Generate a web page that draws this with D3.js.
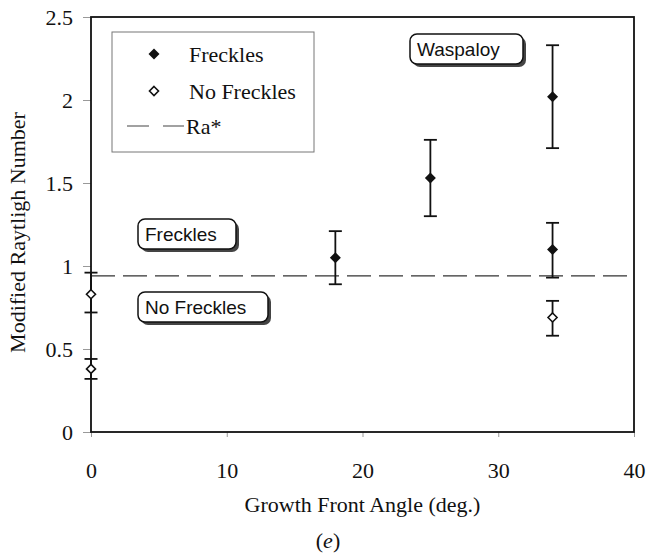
<!DOCTYPE html>
<html>
<head>
<meta charset="utf-8">
<script src="https://cdn.jsdelivr.net/npm/d3@7"></script>
<style>
  html, body { margin: 0; padding: 0; background: #fff; }
  svg { display: block; }
</style>
</head>
<body>
<svg id="chart" width="650" height="558"></svg>
<script>
// Growth front angle vs. modified Rayleigh number (Waspaloy)
const xTicks = [0, 10, 20, 30, 40];
const yTicks = [0, 0.5, 1, 1.5, 2, 2.5];
const yTickLabels = ["0", "0.5", "1", "1.5", "2", "2.5"];

// Freckled castings: value with lower / upper error limits
const freckAngle = [18, 25, 34, 34];
const freckRa    = [1.05, 1.53, 2.02, 1.10];
const freckLo    = [0.89, 1.30, 1.71, 0.93];
const freckHi    = [1.21, 1.76, 2.33, 1.26];

// Freckle-free castings
const noFreckAngle = [0, 0, 34];
const noFreckRa    = [0.83, 0.38, 0.69];
const noFreckLo    = [0.72, 0.32, 0.58];
const noFreckHi    = [0.96, 0.44, 0.79];

// Critical Rayleigh number
const raStar = 0.94;

const legendLabels = ["Freckles", "No Freckles", "Ra*"];

const svg = d3.select("#chart");
const serif = "'Liberation Serif', 'Times New Roman', serif";
const sans = "'Liberation Sans', Arial, sans-serif";

const plotL = 91, plotR = 634, plotT = 17, plotB = 432;
const x = d3.scaleLinear().domain([0, 40]).range([plotL, plotR]);
const y = d3.scaleLinear().domain([0, 2.5]).range([plotB, plotT]);

// Axes with outward gray ticks
const xAxis = svg.append("g").attr("transform", `translate(0,${plotB})`)
  .call(d3.axisBottom(x).tickValues(xTicks).tickSize(5).tickPadding(25).tickFormat(d3.format("d")));
const yAxis = svg.append("g").attr("transform", `translate(${plotL},0)`)
  .call(d3.axisLeft(y).tickValues(yTicks).tickSize(8).tickPadding(10)
    .tickFormat((d, i) => yTickLabels[i]));
[xAxis, yAxis].forEach(g => {
  g.select(".domain").remove();
  g.selectAll(".tick line").attr("stroke", "#999").attr("stroke-width", 1);
  g.selectAll(".tick text").attr("font-family", serif).attr("font-size", 22).attr("fill", "#111");
});

// Plot frame
svg.append("rect")
  .attr("x", plotL).attr("y", plotT)
  .attr("width", plotR - plotL).attr("height", plotB - plotT)
  .attr("fill", "none").attr("stroke", "#111").attr("stroke-width", 1.8);

// Ra* threshold line
svg.append("line")
  .attr("x1", x(0)).attr("x2", x(40))
  .attr("y1", y(raStar)).attr("y2", y(raStar))
  .attr("stroke", "#333").attr("stroke-width", 1.3)
  .attr("stroke-dasharray", "24,8");

// Annotation boxes with drop shadow
function note(bx, by, w, h, label) {
  const g = svg.append("g");
  g.append("rect").attr("x", bx + 3).attr("y", by + 3).attr("width", w).attr("height", h)
    .attr("rx", 7).attr("fill", "#444");
  g.append("rect").attr("x", bx).attr("y", by).attr("width", w).attr("height", h)
    .attr("rx", 7).attr("fill", "#fff").attr("stroke", "#111").attr("stroke-width", 1.5);
  g.append("text").attr("x", bx + 7).attr("y", by + h / 2 + 6.5)
    .attr("font-family", sans).attr("font-size", 19).attr("fill", "#111").text(label);
}
note(138, 219, 98, 30, "Freckles");
note(138, 292, 130, 30, "No Freckles");
note(410, 34, 113, 30, "Waspaloy");

// Error bars
function errorBars(xs, lo, hi) {
  const g = svg.append("g").attr("stroke", "#111").attr("stroke-width", 1.8);
  xs.forEach((a, i) => {
    g.append("line").attr("x1", x(a)).attr("x2", x(a)).attr("y1", y(lo[i])).attr("y2", y(hi[i]));
    [lo[i], hi[i]].forEach(v => {
      g.append("line").attr("x1", x(a) - 6.5).attr("x2", x(a) + 6.5).attr("y1", y(v)).attr("y2", y(v));
    });
  });
}
errorBars(freckAngle, freckLo, freckHi);
errorBars(noFreckAngle, noFreckLo, noFreckHi);

const diamond = (cx, cy, r) => `M${cx},${cy - r}L${cx + r},${cy}L${cx},${cy + r}L${cx - r},${cy}Z`;

svg.append("g").selectAll("path").data(freckAngle).join("path")
  .attr("d", (a, i) => diamond(x(a), y(freckRa[i]), 5.5))
  .attr("fill", "#111");
svg.append("g").selectAll("path").data(noFreckAngle).join("path")
  .attr("d", (a, i) => diamond(x(a), y(noFreckRa[i]), 4.5))
  .attr("fill", "#fff").attr("stroke", "#111").attr("stroke-width", 1.6);

// Legend
const lg = svg.append("g");
lg.append("rect").attr("x", 112).attr("y", 32).attr("width", 202).attr("height", 120)
  .attr("fill", "#fff").attr("stroke", "#777").attr("stroke-width", 1);
const rowY = [54, 91, 126];
lg.append("path").attr("d", diamond(154, rowY[0], 5.5)).attr("fill", "#111");
lg.append("path").attr("d", diamond(154, rowY[1], 4.5))
  .attr("fill", "#fff").attr("stroke", "#111").attr("stroke-width", 1.6);
lg.append("line").attr("x1", 127).attr("x2", 184).attr("y1", rowY[2]).attr("y2", rowY[2])
  .attr("stroke", "#444").attr("stroke-width", 1.2).attr("stroke-dasharray", "22,14");
lg.selectAll("text").data(legendLabels).join("text")
  .attr("x", (d, i) => i === 2 ? 186 : 189)
  .attr("y", (d, i) => rowY[i] + 7.5)
  .attr("font-family", serif).attr("font-size", 22).attr("fill", "#111")
  .text(d => d);

// Axis titles
svg.append("text")
  .attr("x", (plotL + plotR) / 2).attr("y", 512)
  .attr("text-anchor", "middle").attr("font-family", serif).attr("font-size", 22).attr("fill", "#111")
  .text("Growth Front Angle (deg.)");
svg.append("text")
  .attr("transform", `translate(25,${(plotT + plotB) / 2 + 8}) rotate(-90)`)
  .attr("text-anchor", "middle").attr("font-family", serif).attr("font-size", 22).attr("fill", "#111")
  .text("Modified Raytligh Number");
const cap = svg.append("text")
  .attr("x", 328).attr("y", 548)
  .attr("text-anchor", "middle").attr("font-family", serif).attr("font-size", 22).attr("fill", "#111");
cap.append("tspan").text("(");
cap.append("tspan").attr("font-style", "italic").text("e");
cap.append("tspan").text(")");
</script>
</body>
</html>
